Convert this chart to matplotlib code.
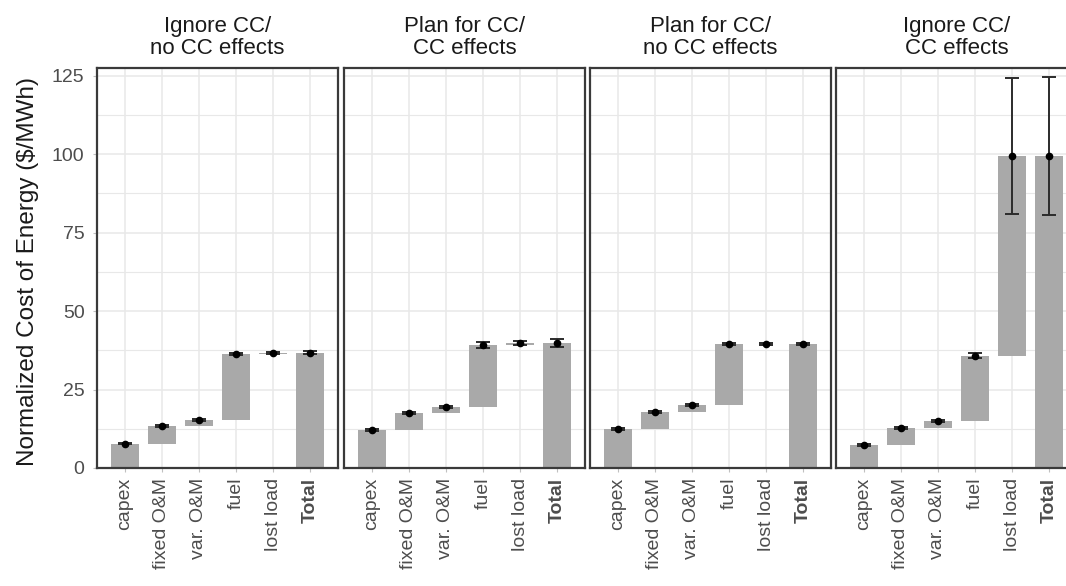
import numpy as np
import matplotlib
matplotlib.use("Agg")
import matplotlib.pyplot as plt

plt.rcParams['font.family'] = ['Liberation Sans', 'DejaVu Sans']

# data
components = ['capex', 'fixed O&M', 'var. O&M', 'fuel', 'lost load']
tick_labels = components + ['Total']
panel_titles = ['Ignore CC/\nno CC effects', 'Plan for CC/\nCC effects',
                'Plan for CC/\nno CC effects', 'Ignore CC/\nCC effects']

# cost increments per component ($/MWh)
ignore_no_cc = [7.8, 5.5, 2.0, 21.0, 0.4]
plan_cc = [12.0, 5.4, 2.1, 19.8, 0.6]
plan_no_cc = [12.4, 5.5, 2.1, 19.5, 0.0]
ignore_cc = [7.3, 5.4, 2.3, 20.8, 63.6]
panel_values = [ignore_no_cc, plan_cc, plan_no_cc, ignore_cc]

# error bars (below / above the running total), last entry = Total
err_lo = [[0.3, 0.3, 0.3, 0.4, 0.3, 0.5],
          [0.3, 0.3, 0.3, 0.9, 0.6, 1.3],
          [0.3, 0.3, 0.3, 0.4, 0.3, 0.4],
          [0.3, 0.3, 0.3, 0.8, 18.3, 18.8]]
err_hi = [[0.3, 0.3, 0.3, 0.4, 0.3, 0.5],
          [0.3, 0.3, 0.3, 0.9, 0.6, 1.3],
          [0.3, 0.3, 0.3, 0.4, 0.3, 0.4],
          [0.3, 0.3, 0.3, 0.8, 24.9, 25.2]]

bar_color = '#a9a9a9'
grid_color = '#e8e8e8'

W, H = 1066, 586
fig = plt.figure(figsize=(W / 100, H / 100), dpi=100)

# panel left edges in pixels
lefts = [97, 344, 590, 836]
pw, top, bottom = 241, 68, 468

x = np.arange(1, len(tick_labels) + 1)

for i, vals in enumerate(panel_values):
    ax = fig.add_axes([lefts[i] / W, 1 - bottom / H, pw / W, (bottom - top) / H])
    vals = np.array(vals)
    ends = np.cumsum(vals)
    starts = ends - vals
    heights = np.append(vals, ends[-1])
    bottoms = np.append(starts, 0)
    tops = bottoms + heights

    ax.bar(x, heights, bottom=bottoms, width=0.75, color=bar_color, zorder=2)
    ax.errorbar(x, tops, yerr=[err_lo[i], err_hi[i]], fmt='o', color='black',
                ecolor='#2b2b2b', elinewidth=1.4, capsize=5, capthick=1.4,
                markersize=4.5, zorder=3)

    ax.set_xlim(0.25, 6.75)
    ax.set_ylim(0, 127.5)
    ax.set_xticks(x)
    ax.set_xticklabels(tick_labels, rotation=90, fontsize=14, color='#4d4d4d')
    ax.get_xticklabels()[-1].set_fontweight('bold')
    ax.set_yticks([0, 25, 50, 75, 100, 125])
    ax.set_yticks(np.arange(12.5, 127.5, 25), minor=True)
    ax.tick_params(axis='both', which='both', length=3, color='#c0c0c0',
                   labelsize=14, labelcolor='#4d4d4d')
    ax.tick_params(axis='x', pad=4)
    ax.tick_params(axis='y', which='minor', length=0)
    if i == 0:
        ax.tick_params(axis='y', pad=6)
    else:
        ax.tick_params(axis='y', labelleft=False, length=0)

    ax.grid(True, which='major', color=grid_color, linewidth=1.1, zorder=0)
    ax.grid(True, which='minor', axis='y', color=grid_color, linewidth=0.8, zorder=0)
    ax.set_axisbelow(True)
    for sp in ax.spines.values():
        sp.set_color('#3a3a3a')
        sp.set_linewidth(1.6)

    ax.set_title(panel_titles[i], fontsize=16, color='#1a1a1a', linespacing=1.05, pad=10)

fig.text(28 / W, 1 - 272 / H, 'Normalized Cost of Energy ($/MWh)', rotation=90,
         ha='center', va='center', fontsize=17.5, color='#1a1a1a')

fig.savefig('out.png', dpi=100)
